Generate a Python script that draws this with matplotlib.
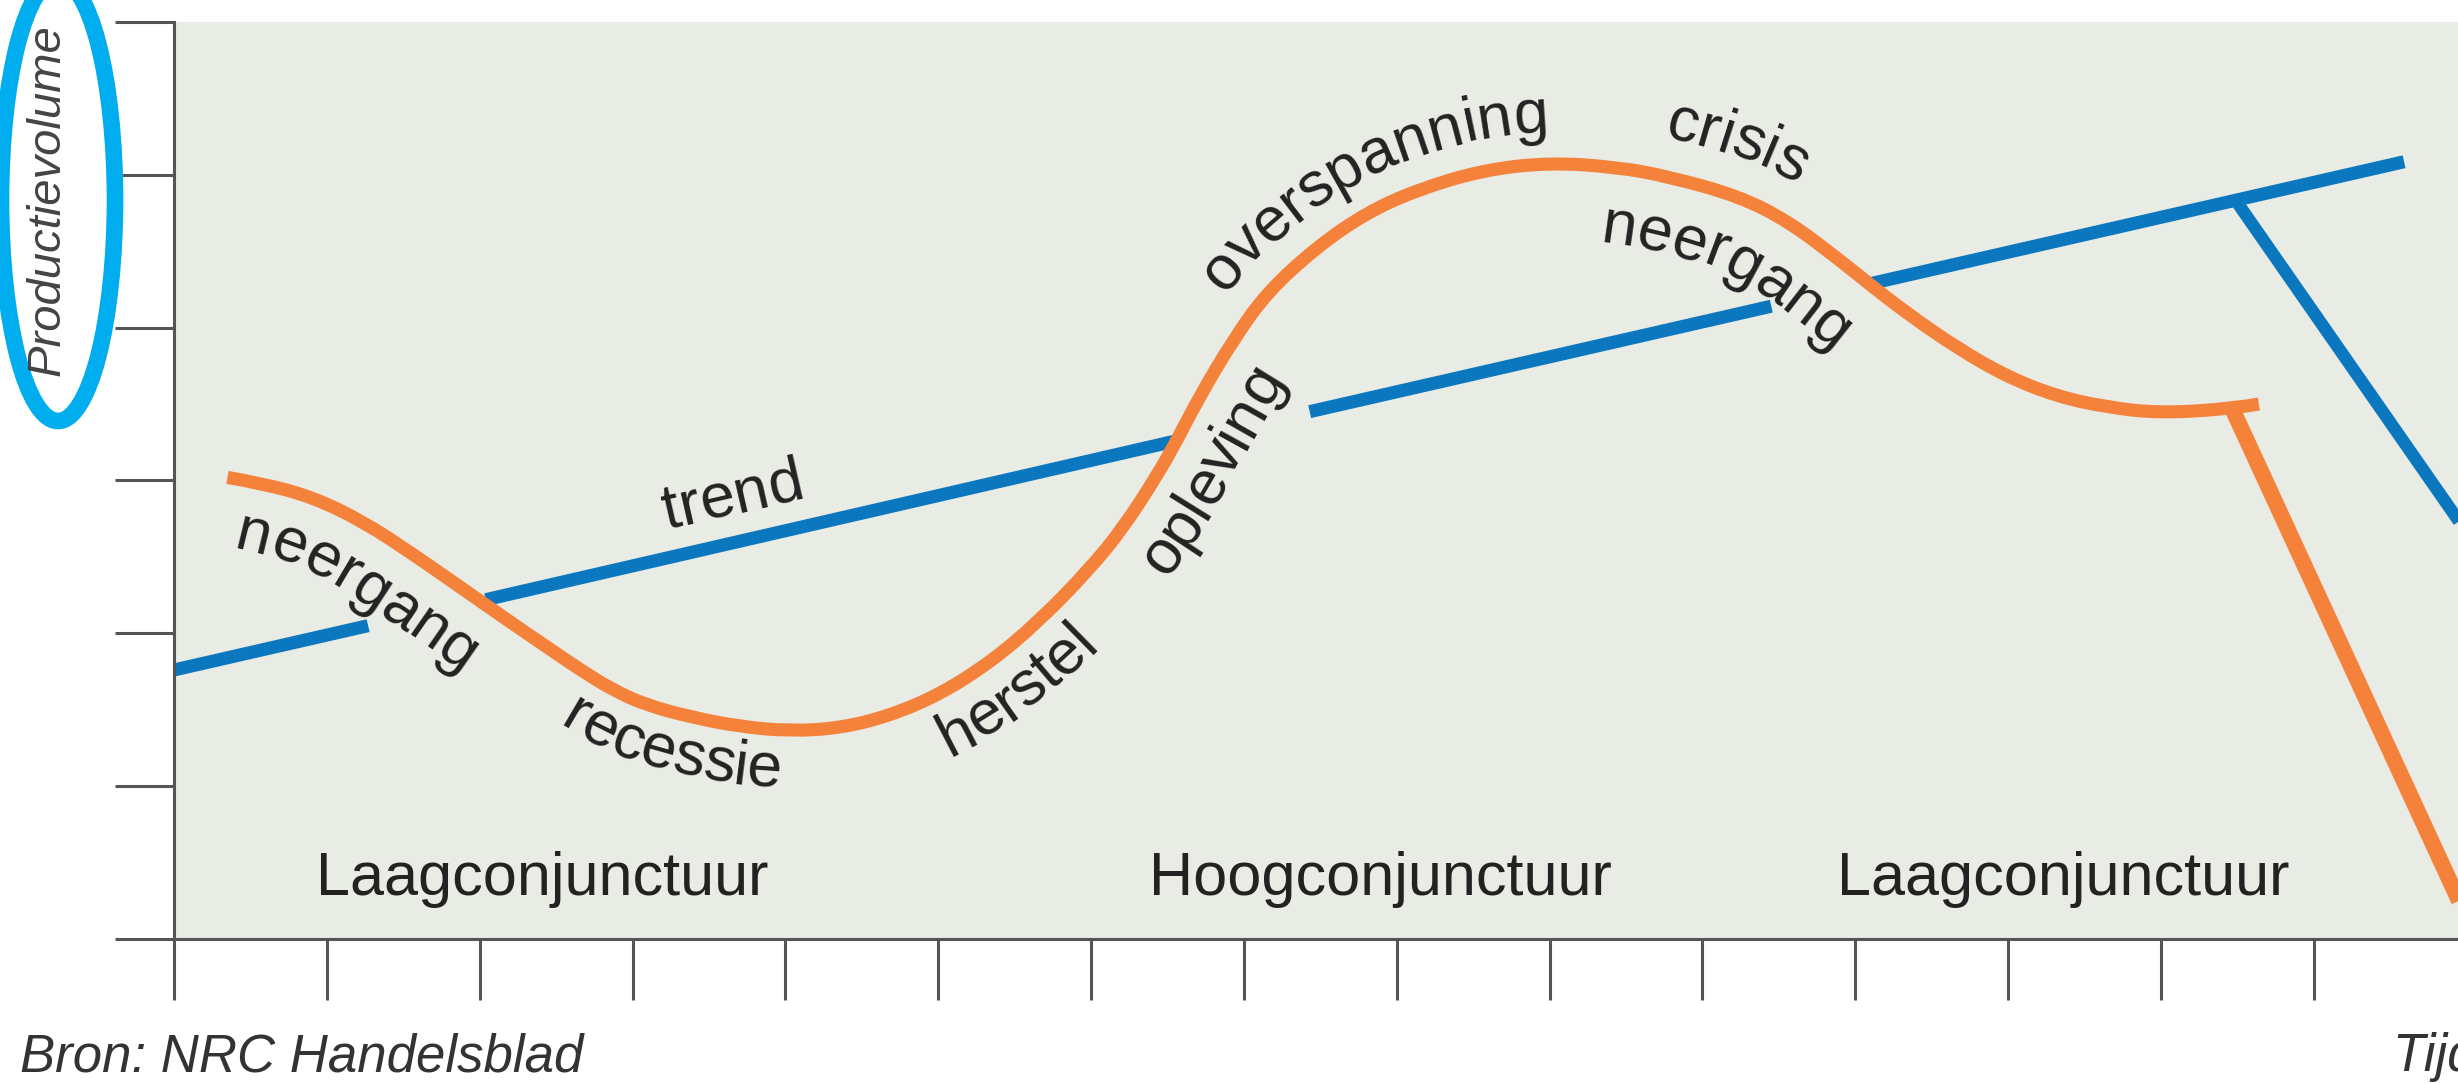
import numpy as np
import matplotlib
matplotlib.use('Agg')
import matplotlib.pyplot as plt
from matplotlib.patches import Ellipse, PathPatch
from matplotlib.path import Path
from matplotlib.font_manager import FontProperties

W, H = 2458, 1084
PX = 152.85  # pixels per unit on both axes

# conjunctuurgolf (orange)
golf_x = [0.35, 0.58, 0.91, 1.24, 1.56, 1.89, 2.22, 2.44, 2.66, 2.87, 3.09, 3.39, 3.70,
          4.03, 4.36, 4.68, 5.01, 5.34, 5.66, 5.99, 6.21, 6.43, 6.56, 6.71, 6.93, 7.15,
          7.48, 7.80, 8.13, 8.56, 9.00, 9.44, 9.77, 10.24, 10.57, 10.90, 11.11, 11.33,
          11.66, 11.99, 12.32, 12.64, 12.99, 13.47, 13.64]
golf_y = [3.02, 2.98, 2.89, 2.73, 2.52, 2.29, 2.06, 1.91, 1.76, 1.63, 1.53, 1.45, 1.39,
          1.36, 1.38, 1.46, 1.60, 1.81, 2.08, 2.42, 2.69, 3.03, 3.26, 3.55, 3.92, 4.23,
          4.53, 4.75, 4.90, 5.03, 5.08, 5.05, 4.99, 4.86, 4.69, 4.44, 4.27, 4.10,
          3.87, 3.68, 3.55, 3.48, 3.44, 3.47, 3.50]

# trend (blue), drawn in pieces with gaps for the labels
trend_x0 = [0.00, 2.04, 7.43, 11.11]
trend_y0 = [1.76, 2.22, 3.45, 4.29]
trend_x1 = [1.27, 6.56, 10.45, 14.59]
trend_y1 = [2.05, 3.26, 4.14, 5.085]

# the two lines that fall away on the right
val_trend_x = [13.49, 15.0]
val_trend_y = [4.83, 2.66]
val_golf_x = [13.47, 15.0]
val_golf_y = [3.46, 0.14]

fase_labels = ['Laagconjunctuur', 'Hoogconjunctuur', 'Laagconjunctuur']
fase_x = [2.41, 7.89, 12.36]
fase_y = 0.29

# labels along the wave: text, x of the curve point under the label centre, offset in px (+ above)
golf_labels = ['neergang', 'recessie', 'herstel', 'opleving', 'overspanning', 'crisis', 'neergang']
golf_label_x = [1.42, 3.31, 5.36, 6.53, 7.91, 10.12, 10.37]
golf_label_off = [-70, -58, -60, -65, 32, 37, -76]

ORANJE = '#F4823A'
BLAUW = '#0B77BF'
GRIJS = '#E9EBE5'
TXT = '#222222'
AS = '#555555'

fig = plt.figure(figsize=(W / 100, H / 100), dpi=100)
ax = fig.add_axes([174 / W, 145 / H, 15.5 * PX / W, 6 * PX / H])
ax.set_xlim(0, 15.5)
ax.set_ylim(0, 6)
ax.set_facecolor(GRIJS)

for s in ['top', 'right']:
    ax.spines[s].set_visible(False)
for s in ['left', 'bottom']:
    ax.spines[s].set_color(AS)
    ax.spines[s].set_linewidth(2.2)
ax.set_xticks(range(15))
ax.set_yticks(range(7))
ax.tick_params(axis='y', length=42.5, width=2.2, color=AS, labelleft=False)
ax.tick_params(axis='x', length=44, width=2.2, color=AS, labelbottom=False)

for x0, y0, x1, y1 in zip(trend_x0, trend_y0, trend_x1, trend_y1):
    ax.plot([x0, x1], [y0, y1], color=BLAUW, lw=9.4, solid_capstyle='butt', zorder=2)
ax.plot(val_trend_x, val_trend_y, color=BLAUW, lw=9.0, solid_capstyle='butt', zorder=2)
ax.plot(val_golf_x, val_golf_y, color=ORANJE, lw=11.5, solid_capstyle='butt', zorder=3)

# the wave as a smooth path: read points are the quadratic control points
pts = np.column_stack([golf_x, golf_y])
verts = [pts[0]]
codes = [Path.MOVETO]
for i in range(1, len(pts) - 2):
    verts += [pts[i], (pts[i] + pts[i + 1]) / 2]
    codes += [Path.CURVE3, Path.CURVE3]
verts += [pts[-2], pts[-1]]
codes += [Path.CURVE3, Path.CURVE3]
golf = PathPatch(Path(verts, codes), fill=False, edgecolor=ORANJE, lw=9.4,
                 capstyle='butt', joinstyle='round', zorder=3)
ax.add_patch(golf)

for lab, x in zip(fase_labels, fase_x):
    ax.text(x, fase_y, lab, ha='center', va='baseline', fontsize=44,
            family='Liberation Sans', color=TXT, zorder=5)


def label_along(xs, ys, text, x_mid, offset, size=45):
    fp = FontProperties(family='Liberation Sans', size=size)
    rend = fig.canvas.get_renderer()
    p = ax.transData.transform(np.column_stack([xs, ys]))
    d = np.gradient(p, axis=0)
    d = d / np.hypot(d[:, 0], d[:, 1])[:, None]
    path = p + offset * np.column_stack([-d[:, 1], d[:, 0]])
    s = np.concatenate([[0], np.cumsum(np.hypot(*np.diff(path, axis=0).T))])
    ang = np.degrees(np.unwrap(np.arctan2(d[:, 1], d[:, 0])))
    k = np.arange(len(xs))
    s_mid = np.interp(np.interp(x_mid, xs, k), k, s)
    w = [0.0] + [rend.get_text_width_height_descent(text[:i], fp, ismath=False)[0]
                 for i in range(1, len(text) + 1)]
    s0 = s_mid - w[-1] / 2
    inv = ax.transData.inverted()
    for i, ch in enumerate(text):
        sc = s0 + (w[i] + w[i + 1]) / 2
        px_ = np.interp(sc, s, path[:, 0])
        py_ = np.interp(sc, s, path[:, 1])
        a = np.interp(sc, s, ang)
        x, y = inv.transform((px_, py_))
        ax.text(x, y, ch, fontproperties=fp, rotation=a, rotation_mode='anchor',
                ha='center', va='baseline', color=TXT, zorder=5)


for lab, x, off in zip(golf_labels, golf_label_x, golf_label_off):
    label_along(golf_x, golf_y, lab, x, off)
label_along([trend_x0[0], trend_x1[-1]], [trend_y0[0], trend_y1[-1]], 'trend', 3.72, 28)

# figure texts
fig.text(20 / W, 13 / H, 'Bron: NRC Handelsblad', fontsize=38, style='italic',
         family='Liberation Sans', color='#333333', va='baseline')
fig.text(2392 / W, 13 / H, 'Tijd', fontsize=38, style='italic',
         family='Liberation Sans', color='#333333', va='baseline')
fig.text(48 / W, (H - 200) / H, 'Productievolume', fontsize=34, style='italic',
         family='Liberation Sans', color='#444444', rotation=90, ha='center', va='center')

ring = Ellipse((58 / W, (H - 200) / H), 114 / W, 442 / H, transform=fig.transFigure,
               fill=False, edgecolor='#00AEEF', lw=12)
fig.add_artist(ring)

fig.savefig('out.png', dpi=100, facecolor='white')
